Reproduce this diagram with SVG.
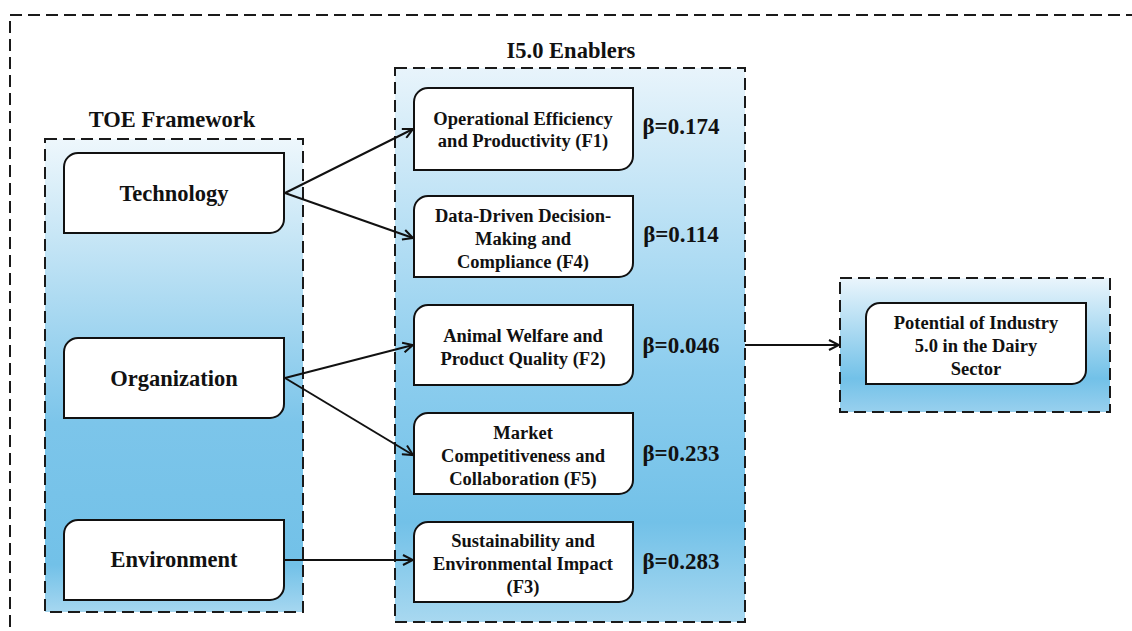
<svg xmlns="http://www.w3.org/2000/svg" width="1132" height="631" viewBox="0 0 1132 631">
<defs>
<linearGradient id="gToe" x1="0" y1="0" x2="0" y2="1">
<stop offset="0" stop-color="#eef7fc"/>
<stop offset="0.6" stop-color="#7cc5ea"/>
<stop offset="0.9" stop-color="#72c1e8"/>
<stop offset="1" stop-color="#a6d7f0"/>
</linearGradient>
<linearGradient id="gI5" x1="0" y1="0" x2="0" y2="1">
<stop offset="0" stop-color="#e8f4fb"/>
<stop offset="0.55" stop-color="#8ccdee"/>
<stop offset="0.82" stop-color="#72c1e8"/>
<stop offset="1" stop-color="#a8d8f0"/>
</linearGradient>
<linearGradient id="gPot" x1="0" y1="0" x2="0" y2="1">
<stop offset="0" stop-color="#eaf5fc"/>
<stop offset="0.75" stop-color="#72c1e8"/>
<stop offset="1" stop-color="#98d0ee"/>
</linearGradient>
<marker id="arr" viewBox="0 0 12 12" refX="11" refY="6" markerWidth="12" markerHeight="12" markerUnits="userSpaceOnUse" orient="auto">
<polyline points="1,1 11,6 1,11" fill="none" stroke="#111" stroke-width="2"/>
</marker>
<style>
.dash{fill:none;stroke:#1a1a1a;stroke-width:2;stroke-dasharray:12 6;}
.node{fill:#fff;stroke:#111;stroke-width:2;}
.t{font-family:"Liberation Serif","Times New Roman",serif;font-weight:bold;fill:#111;text-anchor:middle;}
.big{font-size:22.5px;}
.mid{font-size:18.5px;}
.beta{font-size:23px;}
.conn{fill:none;stroke:#111;stroke-width:2;marker-end:url(#arr);}
</style>
</defs>
<rect x="0" y="0" width="1132" height="631" fill="#fff"/>
<rect class="dash" x="10" y="15" width="1150" height="650"/>

<g id="toe-framework">
<rect x="45" y="139" width="258" height="473" fill="url(#gToe)"/>
<rect class="dash" x="45" y="139" width="258" height="473"/>
<text class="t big" x="172" y="127">TOE Framework</text>
</g>
<g id="i5-enablers">
<rect x="395" y="68" width="350" height="554" fill="url(#gI5)"/>
<rect class="dash" x="395" y="68" width="350" height="554"/>
<text class="t big" x="571" y="58">I5.0 Enablers</text>
</g>
<g id="potential-box">
<rect x="840" y="278" width="270" height="134" fill="url(#gPot)"/>
<rect class="dash" x="840" y="278" width="270" height="134"/>
</g>

<g id="technology">
<path class="node" d="M78,153 H284 V219 A14,14 0 0 1 270,233 H64 V167 A14,14 0 0 1 78,153 Z"/>
<text class="t big" x="174" y="201">Technology</text>
</g>
<g id="organization">
<path class="node" d="M78,338 H284 V404 A14,14 0 0 1 270,418 H64 V352 A14,14 0 0 1 78,338 Z"/>
<text class="t big" x="174" y="386">Organization</text>
</g>
<g id="environment">
<path class="node" d="M78,520 H284 V586 A14,14 0 0 1 270,600 H64 V534 A14,14 0 0 1 78,520 Z"/>
<text class="t big" x="174" y="567">Environment</text>
</g>

<g id="f1">
<path class="node" d="M428,88 H633 V156 A14,14 0 0 1 619,170 H414 V102 A14,14 0 0 1 428,88 Z"/>
<text class="t mid" x="523" y="125">Operational Efficiency</text>
<text class="t mid" x="523" y="147">and Productivity (F1)</text>
<text class="t beta" x="681" y="134">β=0.174</text>
</g>
<g id="f4">
<path class="node" d="M428,196 H633 V263 A14,14 0 0 1 619,277 H414 V210 A14,14 0 0 1 428,196 Z"/>
<text class="t mid" x="523" y="222">Data-Driven Decision-</text>
<text class="t mid" x="523" y="245">Making and</text>
<text class="t mid" x="523" y="268">Compliance (F4)</text>
<text class="t beta" x="681" y="242">β=0.114</text>
</g>
<g id="f2">
<path class="node" d="M428,305 H633 V371 A14,14 0 0 1 619,385 H414 V319 A14,14 0 0 1 428,305 Z"/>
<text class="t mid" x="523" y="342">Animal Welfare and</text>
<text class="t mid" x="523" y="365">Product Quality (F2)</text>
<text class="t beta" x="681" y="353">β=0.046</text>
</g>
<g id="f5">
<path class="node" d="M428,413 H633 V480 A14,14 0 0 1 619,494 H414 V427 A14,14 0 0 1 428,413 Z"/>
<text class="t mid" x="523" y="439">Market</text>
<text class="t mid" x="523" y="462">Competitiveness and</text>
<text class="t mid" x="523" y="485">Collaboration (F5)</text>
<text class="t beta" x="681" y="461">β=0.233</text>
</g>
<g id="f3">
<path class="node" d="M428,522 H633 V588 A14,14 0 0 1 619,602 H414 V536 A14,14 0 0 1 428,522 Z"/>
<text class="t mid" x="523" y="547">Sustainability and</text>
<text class="t mid" x="523" y="570">Environmental Impact</text>
<text class="t mid" x="523" y="593">(F3)</text>
<text class="t beta" x="681" y="569">β=0.283</text>
</g>

<g id="potential">
<path class="node" d="M880,303 H1086 V370 A14,14 0 0 1 1072,384 H866 V317 A14,14 0 0 1 880,303 Z"/>
<text class="t mid" x="976" y="329">Potential of Industry</text>
<text class="t mid" x="976" y="352">5.0 in the Dairy</text>
<text class="t mid" x="976" y="375">Sector</text>
</g>

<g id="connectors">
<line class="conn" x1="285" y1="193" x2="413" y2="129"/>
<line class="conn" x1="285" y1="193" x2="413" y2="238"/>
<line class="conn" x1="285" y1="378" x2="413" y2="345"/>
<line class="conn" x1="285" y1="378" x2="413" y2="455"/>
<line class="conn" x1="285" y1="560" x2="413" y2="560"/>
<line class="conn" x1="745" y1="345" x2="839" y2="345"/>
</g>
</svg>
